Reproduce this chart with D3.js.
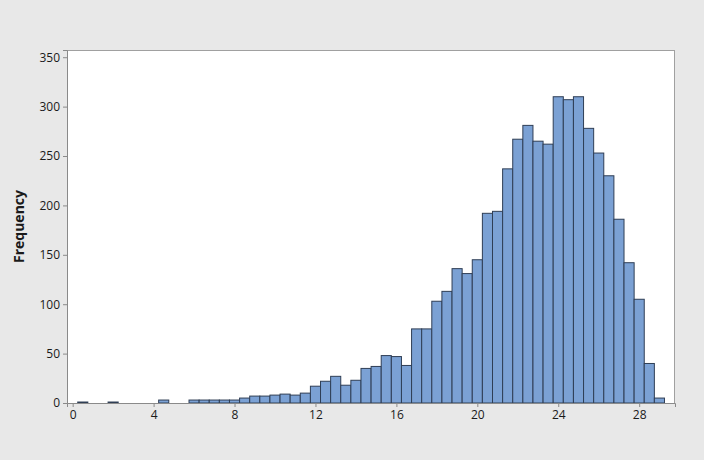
<!DOCTYPE html>
<html>
<head>
<meta charset="utf-8">
<script src="https://cdn.jsdelivr.net/npm/d3@7"></script>
<style>
  html, body { margin: 0; padding: 0; background: #e8e8e8; }
  svg { display: block; }
  text { font-family: "Open Sans", "Noto Sans", sans-serif; }
</style>
</head>
<body>
<svg id="chart" width="704" height="460"></svg>
<script>
// Bin centres (bin width 0.5)
const binCenters = [
  0.5, 1.0, 1.5, 2.0, 2.5, 3.0, 3.5, 4.0, 4.5, 5.0, 5.5, 6.0, 6.5, 7.0, 7.5,
  8.0, 8.5, 9.0, 9.5, 10.0, 10.5, 11.0, 11.5, 12.0, 12.5, 13.0, 13.5, 14.0, 14.5,
  15.0, 15.5, 16.0, 16.5, 17.0, 17.5, 18.0, 18.5, 19.0, 19.5, 20.0, 20.5, 21.0,
  21.5, 22.0, 22.5, 23.0, 23.5, 24.0, 24.5, 25.0, 25.5, 26.0, 26.5, 27.0, 27.5,
  28.0, 28.5, 29.0
];
const frequencies = [
  1, 0, 0, 1, 0, 0, 0, 0, 3, 0, 0, 3, 3, 3, 3,
  3, 5, 7, 7, 8, 9, 8, 10, 17, 22, 27, 18, 23, 35,
  37, 48, 47, 38, 75, 75, 103, 113, 136, 131, 145, 192, 194,
  237, 267, 281, 265, 262, 310, 307, 310, 278, 253, 230, 186, 142,
  105, 40, 5
];
const binWidth = 0.5;
const xTicks = [0, 4, 8, 12, 16, 20, 24, 28];
const yTicks = [0, 50, 100, 150, 200, 250, 300, 350];
const yLabel = "Frequency";

const svg = d3.select("#chart");
const pLeft = 67, pRight = 675, pTop = 50, pBottom = 403;

const x = d3.scaleLinear().domain([-0.28, 29.77]).range([pLeft, pRight]);
const y = d3.scaleLinear().domain([0, 357.3]).range([pBottom, pTop]);

// plot area
svg.append("rect")
  .attr("x", pLeft).attr("y", pTop)
  .attr("width", pRight - pLeft).attr("height", pBottom - pTop)
  .attr("fill", "#ffffff");

const data = binCenters.map((c, i) => ({ c, v: frequencies[i] })).filter(d => d.v > 0);

svg.append("g").selectAll("rect")
  .data(data)
  .join("rect")
  .attr("x", d => x(d.c - binWidth / 2))
  .attr("width", d => x(d.c + binWidth / 2) - x(d.c - binWidth / 2))
  .attr("y", d => y(d.v))
  .attr("height", d => y(0) - y(d.v))
  .attr("fill", "#7ba1d4")
  .attr("stroke", "#2f3e55")
  .attr("stroke-width", 1);

// frame
svg.append("rect")
  .attr("x", pLeft + 0.5).attr("y", pTop + 0.5)
  .attr("width", pRight - pLeft - 1).attr("height", pBottom - pTop)
  .attr("fill", "none")
  .attr("stroke", "#a0a0a0")
  .attr("stroke-width", 1);

// axes
const yAxis = d3.axisLeft(y).tickValues(yTicks).tickSize(4).tickPadding(3);
const gy = svg.append("g").attr("transform", `translate(${pLeft},0)`).call(yAxis);
const xAxis = d3.axisBottom(x).tickValues(xTicks).tickSize(4).tickPadding(3);
const gx = svg.append("g").attr("transform", `translate(0,${pBottom})`).call(xAxis);

[gx, gy].forEach(g => {
  g.select(".domain").attr("stroke", "#8a8a8a");
  g.selectAll(".tick line").attr("stroke", "#8a8a8a");
  g.selectAll(".tick text")
    .attr("fill", "#1a1a1a")
    .style("font-size", "12px");
});

svg.append("text")
  .attr("transform", `translate(24,${(pTop + pBottom) / 2}) rotate(-90)`)
  .attr("text-anchor", "middle")
  .style("font-size", "14px")
  .style("font-weight", "bold")
  .attr("fill", "#1a1a1a")
  .text(yLabel);
</script>
</body>
</html>
